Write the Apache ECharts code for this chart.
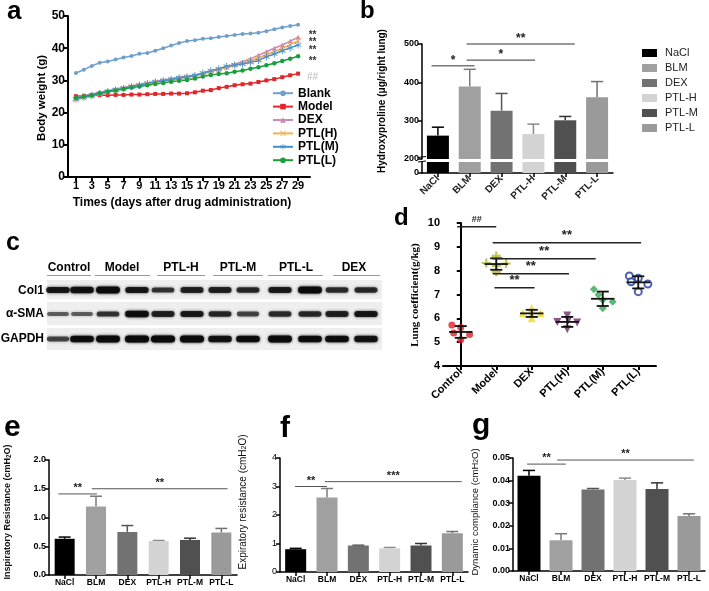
<!DOCTYPE html>
<html><head><meta charset="utf-8">
<script src="https://cdn.jsdelivr.net/npm/echarts@6/dist/echarts.min.js"></script>
<style>html,body{margin:0;padding:0;background:#fff}#c{width:709px;height:591px}</style>
</head><body><div id="c"></div>
<script>
// ================= DATA =================
// Panel a: body weight
const DAYS = [1,2,3,4,5,6,7,8,9,10,11,12,13,14,15,16,17,18,19,20,21,22,23,24,25,26,27,28,29];
const DAY_TICKS = [1,3,5,7,9,11,13,15,17,19,21,23,25,27,29];
const BW_NAMES = ['Blank','Model','DEX','PTL(H)','PTL(M)','PTL(L)'];
const BW_BLANK = [32.3,33.3,34.5,35.5,35.9,36.5,37.1,37.6,38.3,38.5,39.2,40.0,40.8,41.6,42.2,42.5,42.9,43.1,43.5,43.8,44.1,44.4,44.6,44.8,45.3,45.9,46.4,46.9,47.3];
const BW_MODEL = [25.1,25.2,25.3,25.4,25.4,25.5,25.5,25.6,25.6,25.7,25.8,25.8,25.9,25.9,26.0,26.3,26.8,27.0,27.6,28.0,28.5,28.8,29.0,29.5,30.0,30.4,31.0,31.6,32.1];
const BW_DEX   = [24.6,25.3,25.8,26.3,26.8,27.3,27.8,28.3,28.8,29.2,29.7,30.1,30.5,30.9,31.2,31.6,32.2,32.8,33.5,34.2,35.0,35.8,36.7,37.8,38.9,40.0,41.0,42.2,43.4];
const BW_PTLH  = [24.0,24.6,25.2,25.8,26.4,27.0,27.5,28.0,28.5,29.0,29.4,29.8,30.2,30.6,31.0,31.4,32.0,32.7,33.3,34.0,34.6,35.3,36.0,36.9,37.9,38.9,39.9,41.1,42.3];
const BW_PTLM  = [24.2,24.8,25.3,25.9,26.5,27.0,27.5,28.0,28.5,29.0,29.5,29.9,30.3,30.8,31.1,31.5,32.3,33.0,33.6,34.4,34.8,35.1,35.6,36.2,37.3,38.2,39.2,40.1,41.0];
const BW_PTLL  = [24.5,25.0,25.4,26.0,26.5,26.9,27.3,27.8,28.1,28.5,28.9,29.2,29.6,29.9,30.1,30.6,31.2,31.7,32.0,32.2,32.7,33.1,33.6,34.1,34.7,35.3,36.0,36.7,37.5];
const BW_SIG = [[44.7,'**'],[42.5,'**'],[40.0,'**'],[36.6,'**'],[31.7,'##']];

// Panel b: hydroxyproline
const GRP = ['NaCl','BLM','DEX','PTL-H','PTL-M','PTL-L'];
const HYP_MEAN = [261,389,326,265,301,361];
const HYP_SD   = [22,45,45,26,10,41];
const HYP_SIG  = [[-0.2,1.15,443,'*'],[0.9,3.05,458,'*'],[0.9,4.3,500,'**']];

// Panel c: western blot (relative band intensity per lane)
const WB_GROUPS = ['Control','Model','PTL-H','PTL-M','PTL-L','DEX'];
const WB_ROWS = ['Col1','α-SMA','GAPDH'];
const WB_COL1  = [0.80,0.85,0.95,0.80,0.55,0.70,0.70,0.65,0.75,0.95,0.60,0.65];
const WB_SMA   = [0.30,0.30,0.55,0.90,0.70,0.75,0.65,0.45,0.60,0.65,0.70,0.80];
const WB_GAPDH = [0.45,0.90,0.95,1.00,1.00,1.00,0.85,0.90,0.95,0.90,0.90,0.85];

// Panel d: lung coefficient
const LC_CATS = ['Control','Model','DEX','PTL(H)','PTL(M)','PTL(L)'];
const LC_VALUES = [
  [5.72,5.62,5.32,5.10,5.38],
  [8.62,8.32,8.30,8.20,7.95],
  [6.42,6.22,6.22,6.18,6.00],
  [6.12,5.85,5.82,5.92,5.54],
  [7.22,6.77,6.70,6.42,6.99],
  [7.78,7.68,7.44,7.12,7.53]
];
const LC_JITTER = [
  [-0.25,0,0.25,0,-0.2],
  [0,-0.28,0.28,0,0],
  [0,-0.25,0.25,0,0],
  [0,-0.28,0.28,0.03,0],
  [-0.25,0,0.28,0,-0.12],
  [-0.25,0,0.27,0,-0.2]
];
const LC_SIG = [[-0.1,1.0,9.84,'##'],[0.9,5.08,9.17,'**'],[0.9,3.8,8.5,'**'],[0.9,3.05,7.87,'**'],[0.95,2.08,7.28,'**']];

// Panels e, f, g
const INSP_MEAN = [0.63,1.19,0.75,0.59,0.61,0.74];
const INSP_SD   = [0.03,0.18,0.11,0.01,0.03,0.07];
const INSP_SIG  = [[-0.2,1.03,1.41,'**'],[0.87,5.2,1.50,'**']];
const EXP_MEAN  = [0.80,2.61,0.93,0.83,0.93,1.36];
const EXP_SD    = [0.03,0.32,0.01,0.03,0.07,0.06];
const EXP_SIG   = [[-0.02,1.0,3.0,'**'],[0.93,5.3,3.17,'***']];
const DYN_MEAN  = [0.0422,0.0136,0.0361,0.0403,0.0363,0.0243];
const DYN_SD    = [0.0023,0.0029,0.0004,0.0008,0.0027,0.0010];
const DYN_SIG   = [[-0.06,1.15,0.0473,'**'],[0.88,5.15,0.0491,'**']];

// ================= STYLE =================
const F = "'Liberation Sans', Arial, Helvetica, sans-serif";
const BAR_COLORS = ['#000000','#a0a0a0','#727272','#d3d3d3','#505050','#9a9a9a'];
const ERR_COLORS = ['#000000','#7a7a7a','#555555','#8a8a8a','#333333','#707070'];
const LINE_COLORS = ['#6fa0cc','#e0262a','#c98ab3','#f4b050','#4090d0','#1a9e3d'];
const LC_COLORS = ['#e41e26','#b3b12c','#eedd1a','#6b2a63','#33a852','#1e3a9a'];

function merge(a,b){const o=Object.assign({},a);for(const k in b){if(b[k]&&typeof b[k]==='object'&&!Array.isArray(b[k])&&a[k]&&typeof a[k]==='object'){o[k]=merge(a[k],b[k]);}else o[k]=b[k];}return o;}
const AX = {
  splitLine:{show:false},
  axisLine:{show:true,lineStyle:{color:'#000',width:1.5}},
  axisTick:{show:true,length:4,lineStyle:{color:'#000',width:1.5}},
  axisLabel:{color:'#000',fontFamily:F,fontWeight:'bold',fontSize:9,margin:3}
};
function vAx(o){return merge(merge(AX,{type:'value'}),o);}
function cAx(o){return merge(merge(AX,{type:'category',data:GRP,axisTick:{alignWithLabel:true},axisLabel:{interval:0}}),o);}

const xPath='path://M1,0L5,4L9,0L10,1L6,5L10,9L9,10L5,6L1,10L0,9L4,5L0,1Z';
const starPath='path://M4.4,0H5.6V4L9.1,2L9.7,3L6.2,5L9.7,7L9.1,8L5.6,6V10H4.4V6L0.9,8L0.3,7L3.8,5L0.3,3L0.9,2L4.4,4Z';
const plusPath='path://M3.8,0H6.2V3.8H10V6.2H6.2V10H3.8V6.2H0V3.8H3.8Z';
const BW_SYMBOLS=[['circle',4],['rect',4],['triangle',5],[xPath,6],[starPath,7],['circle',4.5]];
const BW_ALL=[BW_BLANK,BW_MODEL,BW_DEX,BW_PTLH,BW_PTLM,BW_PTLL];
const LC_SYMBOLS=[['circle',7],[plusPath,9],['triangle',8],['path://M0,0H10L5,9Z',8],['diamond',8],['circle',7]];

function errRender(colors){
  return function(params, api){
    const x=api.value(0), m=api.value(1), t=api.value(2);
    const p0=api.coord([x,m]), p1=api.coord([x,t]);
    const w=api.size([1,0])[0]*0.38;
    const c=colors[params.dataIndex];
    return {type:'group',children:[
      {type:'line',shape:{x1:p0[0],y1:p0[1],x2:p1[0],y2:p1[1]},style:{stroke:c,lineWidth:1.5}},
      {type:'line',shape:{x1:p1[0]-w/2,y1:p1[1],x2:p1[0]+w/2,y2:p1[1]},style:{stroke:c,lineWidth:1.5}}
    ]};
  };
}
function errData(mean,sd){return mean.map((m,i)=>[i,m,m+sd[i]]);}
function barData(arr){return arr.map((v,i)=>({value:v,itemStyle:{color:BAR_COLORS[i]}}));}

// ================= OPTION =================
const grids=[
  {left:68,top:16,width:242,height:161},   // 0 a
  {left:422,top:44,width:191,height:115},  // 1 b upper
  {left:422,top:162,width:191,height:11},  // 2 b lower
  {left:443,top:223,width:213,height:143}, // 3 d
  {left:49,top:460,width:188,height:115},  // 4 e
  {left:280,top:458,width:188,height:114}, // 5 f
  {left:513,top:458,width:192,height:113}  // 6 g
];
const xAxes=[
  vAx({gridIndex:0,min:0,max:30.5,axisLine:{lineStyle:{width:2}},axisTick:{customValues:DAY_TICKS,lineStyle:{width:2}},axisLabel:{customValues:DAY_TICKS,fontSize:11,margin:3}}),
  cAx({gridIndex:1,show:false}),
  cAx({gridIndex:2,axisLabel:{rotate:45,fontSize:10,color:'#222',margin:4}}),
  cAx({gridIndex:3,data:LC_CATS,axisLine:{lineStyle:{width:2}},axisTick:{lineStyle:{width:2}},axisLabel:{rotate:45,fontSize:11,margin:4}}),
  vAx({gridIndex:3,min:-0.5,max:5.5,show:false}),
  cAx({gridIndex:4,axisLabel:{fontSize:8.5}}),
  cAx({gridIndex:5,axisLabel:{fontSize:8.5}}),
  cAx({gridIndex:6,axisLabel:{fontSize:8.5}})
];
const yAxes=[
  vAx({gridIndex:0,min:0,max:50,interval:10,axisLine:{lineStyle:{width:2}},axisTick:{lineStyle:{width:2}},axisLabel:{fontSize:12}}),
  vAx({gridIndex:1,min:200,max:500,interval:100,axisLabel:{fontSize:9}}),
  vAx({gridIndex:2,min:0,max:10,interval:10,axisTick:{customValues:[0]},axisLabel:{customValues:[0],fontSize:9}}),
  vAx({gridIndex:3,min:4,max:10,interval:1,axisLine:{lineStyle:{width:2}},axisTick:{lineStyle:{width:2}},axisLabel:{fontSize:11}}),
  vAx({gridIndex:4,min:0,max:2,interval:0.5,axisLabel:{formatter:v=>v.toFixed(1)}}),
  vAx({gridIndex:5,min:0,max:4,interval:1,axisLabel:{fontWeight:'normal'}}),
  vAx({gridIndex:6,min:0,max:0.05,interval:0.01,axisLabel:{formatter:v=>v.toFixed(2)}})
];
const series=[];
BW_NAMES.forEach((n,k)=>{
  series.push({name:n,type:'line',xAxisIndex:0,yAxisIndex:0,data:DAYS.map((d,i)=>[d,BW_ALL[k][i]]),
    color:LINE_COLORS[k],symbol:BW_SYMBOLS[k][0],symbolSize:BW_SYMBOLS[k][1],showAllSymbol:true,
    lineStyle:{width:1.5},silent:true,animation:false});
});
// b
series.push({type:'bar',xAxisIndex:1,yAxisIndex:1,data:barData(HYP_MEAN),barWidth:22,animation:false});
series.push({type:'bar',xAxisIndex:2,yAxisIndex:2,data:barData(HYP_MEAN),barWidth:22,animation:false});
series.push({type:'custom',xAxisIndex:1,yAxisIndex:1,renderItem:errRender(ERR_COLORS),data:errData(HYP_MEAN,HYP_SD),z:1,animation:false});
// d
LC_VALUES.forEach((vals,g)=>{
  const s={type:'scatter',xAxisIndex:4,yAxisIndex:3,symbol:LC_SYMBOLS[g][0],symbolSize:LC_SYMBOLS[g][1],
    data:vals.map((v,j)=>[g+LC_JITTER[g][j],v]),itemStyle:{color:LC_COLORS[g]},animation:false,z:2};
  if(g===5){s.itemStyle={color:'#fff',borderColor:LC_COLORS[g],borderWidth:2};}
  series.push(s);
});
const lcStats=LC_VALUES.map((vals,g)=>{const m=vals.reduce((a,b)=>a+b,0)/vals.length;const sd=Math.sqrt(vals.reduce((a,b)=>a+(b-m)*(b-m),0)/(vals.length-1));return [g,m,sd];});
series.push({type:'custom',xAxisIndex:4,yAxisIndex:3,data:lcStats,z:3,animation:false,renderItem:function(params,api){
  const x=api.value(0),m=api.value(1),sd=api.value(2);
  const pm=api.coord([x,m]),pt=api.coord([x,m+sd]),pb=api.coord([x,m-sd]);
  const u=api.size([1,0])[0];const mw=u*0.66,cw=u*0.34;
  const st={stroke:'#111',lineWidth:1.8};
  return {type:'group',children:[
    {type:'line',shape:{x1:pm[0]-mw/2,y1:pm[1],x2:pm[0]+mw/2,y2:pm[1]},style:st},
    {type:'line',shape:{x1:pt[0],y1:pt[1],x2:pb[0],y2:pb[1]},style:st},
    {type:'line',shape:{x1:pt[0]-cw/2,y1:pt[1],x2:pt[0]+cw/2,y2:pt[1]},style:st},
    {type:'line',shape:{x1:pb[0]-cw/2,y1:pb[1],x2:pb[0]+cw/2,y2:pb[1]},style:st}
  ]};
}});
// e f g
[[4,4,INSP_MEAN,INSP_SD,20],[5,5,EXP_MEAN,EXP_SD,21],[6,6,DYN_MEAN,DYN_SD,23]].forEach(([xi,yi,m,sd,bw])=>{
  series.push({type:'bar',xAxisIndex:xi+1,yAxisIndex:yi,data:barData(m),barWidth:bw,animation:false});
  series.push({type:'custom',xAxisIndex:xi+1,yAxisIndex:yi,renderItem:errRender(ERR_COLORS),data:errData(m,sd),animation:false});
});

const option={
  animation:false,
  grid:grids,xAxis:xAxes,yAxis:yAxes,series:series,
  legend:{data:BW_NAMES,orient:'vertical',left:272,top:87,padding:0,itemWidth:20,itemHeight:7,itemGap:1,selectedMode:false,
    textStyle:{fontFamily:F,fontWeight:'bold',fontSize:12,color:'#000',lineHeight:12.4}}
};
const chart=echarts.init(document.getElementById('c'));
chart.setOption(option);

// ================= OVERLAYS =================
const G=[];
function txt(x,y,t,o){G.push({type:'text',x:x,y:y,rotation:(o&&o.rot)||0,silent:true,z:50,style:Object.assign({text:t,fontFamily:F,fontSize:12,fontWeight:'bold',fill:'#000',align:'center',verticalAlign:'middle'},o&&o.style)});}
function seg(x1,y1,x2,y2,c,w){G.push({type:'line',silent:true,z:50,shape:{x1,y1,x2,y2},style:{stroke:c||'#333',lineWidth:w||1}});}
function catPx(xi,yi,x,y){const p0=chart.convertToPixel({xAxisIndex:xi,yAxisIndex:yi},[0,y]);const p1=chart.convertToPixel({xAxisIndex:xi,yAxisIndex:yi},[1,y]);return [p0[0]+(p1[0]-p0[0])*x,p0[1]];}
function sig(xi,yi,list,col,fs,dy){list.forEach(([a,b,y,t])=>{const p=catPx(xi,yi,a,y),q=catPx(xi,yi,b,y);seg(p[0],p[1],q[0],p[1],col,1);txt((p[0]+q[0])/2,p[1]-(dy||6),t,{style:{fontSize:fs||12,fill:'#222'}});});}

// panel letters
txt(7,12,'a',{style:{fontSize:26,align:'left'}});
txt(360,11,'b',{style:{fontSize:24,align:'left'}});
txt(6,243,'c',{style:{fontSize:25,align:'left'}});
txt(394,218,'d',{style:{fontSize:24,align:'left'}});
txt(4,428,'e',{style:{fontSize:30,align:'left'}});
txt(280,429,'f',{style:{fontSize:30,align:'left'}});
txt(472,426,'g',{style:{fontSize:30,align:'left'}});

// panel a titles & sig
txt(42,98,'Body weight (g)',{rot:Math.PI/2,style:{fontSize:11.5}});
txt(182,203,'Times (days after drug administration)',{style:{fontSize:12}});
BW_SIG.forEach(([v,t])=>{const p=chart.convertToPixel({xAxisIndex:0,yAxisIndex:0},[30.2,v]);txt(p[0]+5,p[1]+2,t,{style:{fontSize:10,fill:t==='##'?'#bbbbbb':'#333',fontWeight:t==='##'?'normal':'bold'}});});

// panel b
txt(382,101,'Hydroxyproline (μg/right lung)',{rot:Math.PI/2,style:{fontSize:10}});
sig(1,1,HYP_SIG,'#333',12,5);
seg(418,157.5,426,156.5,'#000',1.2);seg(418,162,426,161,'#000',1.2);
GRP.forEach((n,i)=>{const y=53+15*i;G.push({type:'rect',silent:true,z:50,shape:{x:642,y:y-4,width:15,height:8},style:{fill:BAR_COLORS[i]}});txt(665,y,n,{style:{fontSize:11,fontWeight:'normal',align:'left',fill:'#222'}});});

// panel c: western blot
const laneX=[58,82,108,137,163,192,220,248,280,310,337,366];
const groupX=[69,122,181,238,296,354];
const ulines=[[47,91],[95,150],[157,205],[213,263],[268,323],[333,380]];
WB_GROUPS.forEach((g,i)=>{txt(groupX[i],268,g,{style:{fontSize:12}});seg(ulines[i][0],275.5,ulines[i][1],275.5,'#999',1);});
const rowY=[290,314,339], stripY=[[280,299],[302,325],[328,350]];
stripY.forEach(([a,b])=>G.push({type:'rect',silent:true,z:40,shape:{x:47,y:a,width:335,height:b-a},style:{fill:'#eeeeee'}}));
[WB_COL1,WB_SMA,WB_GAPDH].forEach((row,r)=>{
  txt(44,rowY[r]+(r===0?1:0),WB_ROWS[r],{style:{fontSize:12,align:'right'}});
  row.forEach((v,l)=>{const h=3+4*v,w=21+3*v;const c='rgba(10,10,10,'+(0.35+0.65*v).toFixed(2)+')';
    G.push({type:'rect',silent:true,z:45,shape:{x:laneX[l]-w/2,y:rowY[r]-h/2,width:w,height:h,r:h/2},style:{fill:c,shadowBlur:3,shadowColor:c}});});
});

// panel d
txt(415,295,'Lung coefficient(g/kg)',{rot:Math.PI/2,style:{fontSize:11,fontFamily:"'Liberation Serif','Times New Roman',serif"}});
LC_SIG.forEach(([a,b,y,t])=>{const p=chart.convertToPixel({xAxisIndex:4,yAxisIndex:3},[a-0,y]);const q=chart.convertToPixel({xAxisIndex:4,yAxisIndex:3},[b,y]);seg(p[0],p[1],q[0],q[1],'#222',1.5);txt((p[0]+q[0])/2,p[1]-7,t,{style:{fontSize:t==='##'?9:13,fill:'#222'}});});

// panels e f g titles
const sub=(s,fs,fw)=>({text:'{a|'+s+' (cmH}{s|2}{a|O)}',rich:{a:{fontSize:fs,fontWeight:fw,fontFamily:F,fill:'#111'},s:{fontSize:fs*0.7,fontWeight:fw,fontFamily:F,fill:'#111',verticalAlign:'bottom'}}});
G.push({type:'text',x:8,y:512,rotation:Math.PI/2,silent:true,z:50,style:Object.assign({align:'center',verticalAlign:'middle'},sub('Inspiratory Resistance',9,'bold'))});
G.push({type:'text',x:243,y:502,rotation:Math.PI/2,silent:true,z:50,style:Object.assign({align:'center',verticalAlign:'middle'},sub('Expiratory resistance',10,'normal'))});
G.push({type:'text',x:475,y:512,rotation:Math.PI/2,silent:true,z:50,style:Object.assign({align:'center',verticalAlign:'middle'},sub('Dynamic compliance',9.5,'normal'))});
sig(5,4,INSP_SIG,'#555',11,6);
sig(6,5,EXP_SIG,'#555',11,6);
sig(7,6,DYN_SIG,'#555',11,6);

chart.setOption({graphic:G});
</script></body></html>
